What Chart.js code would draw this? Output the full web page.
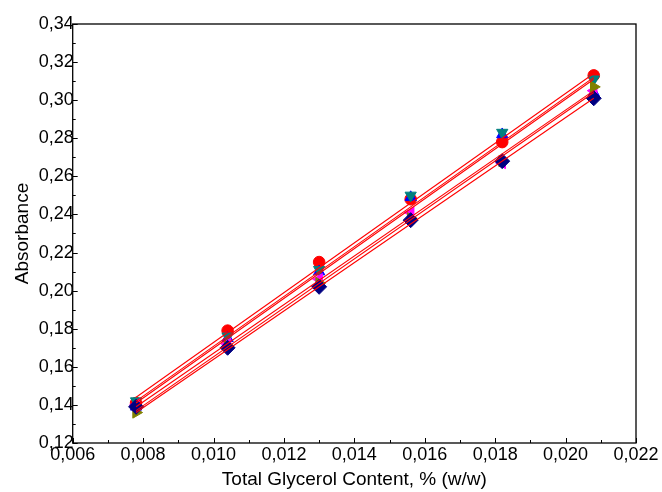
<!DOCTYPE html>
<html>
<head>
<meta charset="utf-8">
<script src="https://cdn.jsdelivr.net/npm/chart.js@4.4.1/dist/chart.umd.min.js"></script>
<style>
  html, body { margin: 0; padding: 0; background: #fff; }
  #wrap { width: 662px; height: 492px; }
</style>
</head>
<body>
<div id="wrap"><canvas id="chart"></canvas></div>
<script>
// glycerol content, % (w/w)
const glycerol = [0.0078, 0.0104, 0.0130, 0.0156, 0.0182, 0.0208];

// absorbance readings, one array per run
const runRed     = [0.141, 0.179, 0.215, 0.248, 0.278, 0.313];
const runBlue    = [0.139, 0.175, 0.210, 0.249, 0.282, 0.304];
const runTeal    = [0.142, 0.176, 0.211, 0.250, 0.283, 0.311];
const runMagenta = [0.140, 0.172, 0.206, 0.241, 0.267, 0.305];
const runOlive   = [0.136, 0.171, 0.204, 0.238, 0.268, 0.307];
const runNavy    = [0.139, 0.170, 0.202, 0.237, 0.268, 0.301];

// fitted lines, start and end values at the first and last glycerol level
const fitStart = [0.144, 0.142, 0.141, 0.139, 0.137, 0.136];
const fitEnd   = [0.314, 0.312, 0.311, 0.305, 0.304, 0.301];

const yTicks = [0.12, 0.14, 0.16, 0.18, 0.20, 0.22, 0.24, 0.26, 0.28, 0.30, 0.32, 0.34];
const xTicks = [0.006, 0.008, 0.010, 0.012, 0.014, 0.016, 0.018, 0.020, 0.022];

const toPts = vals => vals.map((v, i) => ({ x: glycerol[i], y: v }));
const comma = (v, d) => v.toFixed(d).replace('.', ',');

function markerSet(data, color, style, rotation, size, order) {
    return {
        type: 'scatter',
        data: toPts(data),
        pointStyle: style,
        rotation: rotation || 0,
        radius: size,
        backgroundColor: color,
        borderColor: color,
        borderWidth: 1,
        showLine: false,
        order: order
    };
}

const fitSets = fitStart.map((s, i) => ({
    type: 'line',
    data: [{ x: glycerol[0], y: s }, { x: glycerol[glycerol.length - 1], y: fitEnd[i] }],
    borderColor: '#ff0000',
    borderWidth: 1.1,
    pointRadius: 0,
    fill: false,
    order: 1
}));

// box around the plot and inward ticks
const frame = {
    id: 'frame',
    afterDraw(chart) {
        const { ctx, chartArea: a, scales: { x, y } } = chart;
        ctx.save();
        ctx.strokeStyle = '#000';
        ctx.lineWidth = 1.3;
        ctx.strokeRect(a.left, a.top, a.right - a.left, a.bottom - a.top);
        ctx.lineWidth = 1;
        ctx.beginPath();
        for (let v = 0.12; v <= 0.3401; v += 0.01) {
            const py = Math.round(y.getPixelForValue(v)) + 0.5;
            const major = Math.round(v * 100) % 2 === 0;
            ctx.moveTo(a.left, py);
            ctx.lineTo(a.left + (major ? 5 : 3), py);
        }
        for (let v = 0.006; v <= 0.02201; v += 0.001) {
            const px = Math.round(x.getPixelForValue(v)) + 0.5;
            const major = Math.round(v * 1000) % 2 === 0;
            ctx.moveTo(px, a.bottom);
            ctx.lineTo(px, a.bottom - (major ? 5 : 3));
        }
        ctx.stroke();
        ctx.restore();
    }
};

new Chart(document.getElementById('chart'), {
    type: 'scatter',
    data: {
        datasets: [
            ...fitSets,
            markerSet(runRed, '#ff0000', 'circle', 0, 5.8, 7),
            markerSet(runBlue, '#0000ff', 'triangle', 0, 6.5, 6),
            markerSet(runTeal, '#008080', 'triangle', 180, 6.5, 5),
            markerSet(runMagenta, '#ff00ff', 'triangle', -90, 6.5, 4),
            markerSet(runOlive, '#808000', 'triangle', 90, 6.5, 3),
            markerSet(runNavy, '#000080', 'rectRot', 0, 7.5, 2)
        ]
    },
    options: {
        responsive: true,
        maintainAspectRatio: false,
        animation: false,
        layout: { padding: { top: 24, right: 26, left: 0, bottom: 0 } },
        plugins: { legend: { display: false }, tooltip: { enabled: false } },
        scales: {
            x: {
                type: 'linear',
                min: 0.006,
                max: 0.022,
                afterBuildTicks: s => { s.ticks = xTicks.map(v => ({ value: v })); },
                afterFit: s => { s.height = 49; },
                grid: { display: false, drawTicks: false },
                border: { display: false },
                ticks: {
                    padding: 1,
                    color: '#000',
                    font: { family: 'Arial, "Liberation Sans"', size: 18 },
                    maxRotation: 0,
                    callback: v => comma(v, 3)
                },
                title: {
                    display: true,
                    text: 'Total Glycerol Content, % (w/w)',
                    color: '#000',
                    font: { family: 'Arial, "Liberation Sans"', size: 19 },
                    padding: { top: 0, bottom: 1 }
                }
            },
            y: {
                type: 'linear',
                min: 0.12,
                max: 0.34,
                afterBuildTicks: s => { s.ticks = yTicks.map(v => ({ value: v })); },
                afterFit: s => { s.width = 72.7; },
                grid: { display: false, drawTicks: false },
                border: { display: false },
                ticks: {
                    padding: -1,
                    color: '#000',
                    font: { family: 'Arial, "Liberation Sans"', size: 18 },
                    callback: v => comma(v, 2)
                },
                title: {
                    display: true,
                    text: 'Absorbance',
                    color: '#000',
                    font: { family: 'Arial, "Liberation Sans"', size: 19 },
                    padding: { top: 11, bottom: 0 }
                }
            }
        }
    },
    plugins: [frame]
});
</script>
</body>
</html>
